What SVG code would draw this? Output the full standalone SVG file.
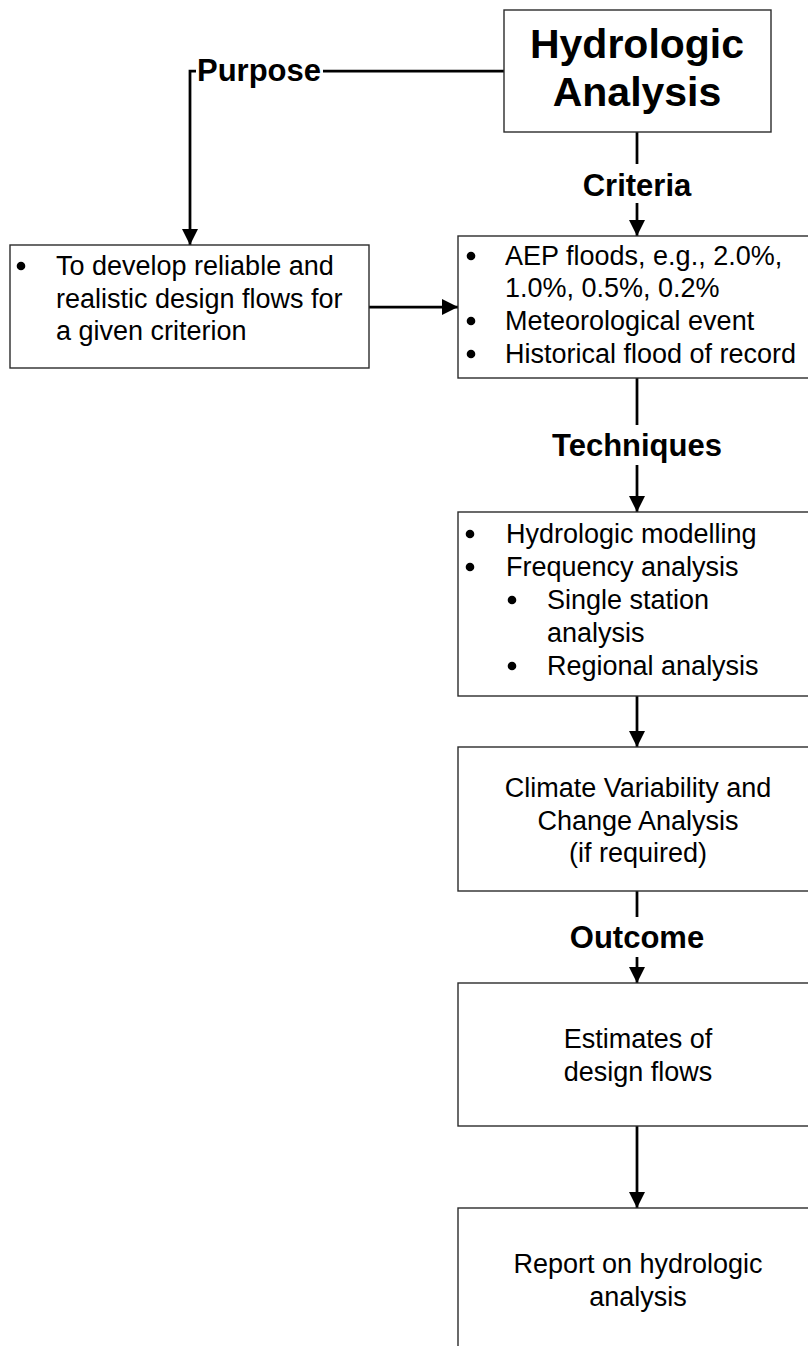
<svg xmlns="http://www.w3.org/2000/svg" width="808" height="1346" viewBox="0 0 808 1346">
  <style>
    .box { fill: #ffffff; stroke: #2b2b2b; stroke-width: 1.4; }
    .conn { fill: none; stroke: #000000; stroke-width: 2.75; }
    .lbl-bg { fill: #ffffff; stroke: none; }
    .lbl { font-family: "Liberation Sans", Arial, sans-serif; font-weight: bold; font-size: 31px; fill: #000; }
    .title { font-family: "Liberation Sans", Arial, sans-serif; font-weight: bold; font-size: 41px; fill: #000; text-anchor: middle; }
    .txt { font-family: "Liberation Sans", Arial, sans-serif; font-size: 27px; fill: #000; }
    .mid { text-anchor: middle; }
    .dot { fill: #000; }
  </style>
  <defs>
    <marker id="arrow" markerUnits="userSpaceOnUse" markerWidth="16" markerHeight="16" refX="16" refY="8" orient="auto">
      <path d="M0,0 L16,8 L0,16 z" fill="#000"/>
    </marker>
  </defs>

  <rect width="808" height="1346" fill="#ffffff"/>

  <!-- connectors -->
  <g id="connectors">
    <path class="conn" d="M504,71 H190 V245" marker-end="url(#arrow)"/>
    <path class="conn" d="M369,307 H458" marker-end="url(#arrow)"/>
    <path class="conn" d="M637,132 V236" marker-end="url(#arrow)"/>
    <path class="conn" d="M637,378 V512" marker-end="url(#arrow)"/>
    <path class="conn" d="M637,696 V747" marker-end="url(#arrow)"/>
    <path class="conn" d="M637,891 V983" marker-end="url(#arrow)"/>
    <path class="conn" d="M637,1126 V1208" marker-end="url(#arrow)"/>
  </g>

  <!-- connector labels -->
  <g id="label-purpose">
    <rect class="lbl-bg" x="196" y="55" width="127" height="34"/>
    <text class="lbl" x="197" y="81">Purpose</text>
  </g>
  <g id="label-criteria">
    <rect class="lbl-bg" x="580" y="164" width="114" height="39"/>
    <text class="lbl mid" x="637" y="196" text-anchor="middle">Criteria</text>
  </g>
  <g id="label-techniques">
    <rect class="lbl-bg" x="548" y="425" width="178" height="40"/>
    <text class="lbl mid" x="637" y="456" text-anchor="middle">Techniques</text>
  </g>
  <g id="label-outcome">
    <rect class="lbl-bg" x="565" y="917" width="144" height="40"/>
    <text class="lbl mid" x="637" y="948" text-anchor="middle">Outcome</text>
  </g>

  <!-- nodes -->
  <g id="node-hydrologic">
    <rect class="box" x="504" y="10" width="267" height="122"/>
    <text class="title" x="637" y="58">Hydrologic</text>
    <text class="title" x="637" y="106">Analysis</text>
  </g>

  <g id="node-purpose">
    <rect class="box" x="10" y="245" width="359" height="123"/>
    <circle class="dot" cx="21" cy="266" r="4.3"/>
    <text class="txt" x="56" y="275">To develop reliable and</text>
    <text class="txt" x="56" y="307.5">realistic design flows for</text>
    <text class="txt" x="56" y="340">a given criterion</text>
  </g>

  <g id="node-criteria">
    <rect class="box" x="458" y="236" width="360" height="142"/>
    <circle class="dot" cx="471" cy="256" r="4.3"/>
    <text class="txt" x="505" y="265">AEP floods, e.g., 2.0%,</text>
    <text class="txt" x="505" y="297">1.0%, 0.5%, 0.2%</text>
    <circle class="dot" cx="471" cy="321" r="4.3"/>
    <text class="txt" x="505" y="330">Meteorological event</text>
    <circle class="dot" cx="471" cy="354" r="4.3"/>
    <text class="txt" x="505" y="363">Historical flood of record</text>
  </g>

  <g id="node-techniques">
    <rect class="box" x="458" y="512" width="360" height="184"/>
    <circle class="dot" cx="470" cy="534" r="4.3"/>
    <text class="txt" x="506" y="543">Hydrologic modelling</text>
    <circle class="dot" cx="470" cy="567" r="4.3"/>
    <text class="txt" x="506" y="576">Frequency analysis</text>
    <circle class="dot" cx="512" cy="600" r="4.3"/>
    <text class="txt" x="547" y="609">Single station</text>
    <text class="txt" x="547" y="642">analysis</text>
    <circle class="dot" cx="512" cy="666" r="4.3"/>
    <text class="txt" x="547" y="675">Regional analysis</text>
  </g>

  <g id="node-climate">
    <rect class="box" x="458" y="747" width="360" height="144"/>
    <text class="txt mid" x="638" y="797" text-anchor="middle">Climate Variability and</text>
    <text class="txt mid" x="638" y="829.5" text-anchor="middle">Change Analysis</text>
    <text class="txt mid" x="638" y="862" text-anchor="middle">(if required)</text>
  </g>

  <g id="node-estimates">
    <rect class="box" x="458" y="983" width="360" height="143"/>
    <text class="txt mid" x="638" y="1048" text-anchor="middle">Estimates of</text>
    <text class="txt mid" x="638" y="1081" text-anchor="middle">design flows</text>
  </g>

  <g id="node-report">
    <rect class="box" x="458" y="1208" width="360" height="150"/>
    <text class="txt mid" x="638" y="1273" text-anchor="middle">Report on hydrologic</text>
    <text class="txt mid" x="638" y="1306" text-anchor="middle">analysis</text>
  </g>
</svg>
